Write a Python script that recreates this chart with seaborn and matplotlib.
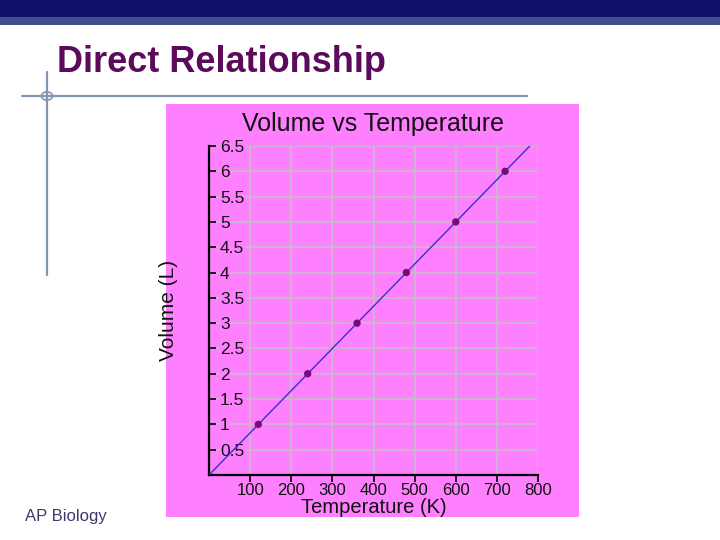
import matplotlib
matplotlib.use("Agg")
import matplotlib.pyplot as plt
from matplotlib.lines import Line2D
from matplotlib.patches import Rectangle, Circle
import pandas as pd
import seaborn as sns

# data
temperature_k = [120, 240, 360, 480, 600, 720]
volume_l = [1, 2, 3, 4, 5, 6]
fit_temperature = [0, 780]
fit_volume = [0, 6.5]
x_ticks = [100, 200, 300, 400, 500, 600, 700, 800]
y_ticks = [0.5, 1, 1.5, 2, 2.5, 3, 3.5, 4, 4.5, 5, 5.5, 6, 6.5]

sns.set_style("white")
plt.rcParams['font.family'] = ['Liberation Sans', 'DejaVu Sans']

W, H = 720, 540
PINK = "#FF80FF"


def fx(x):
    return x / W


def fy(y):
    return 1 - y / H


fig = plt.figure(figsize=(7.2, 5.4), dpi=100)
fig.patch.set_facecolor("white")

# slide decoration
fig.add_artist(Rectangle((0, fy(25)), 1, 25 / H, transform=fig.transFigure,
                         facecolor="#434C8E", edgecolor="none"))
fig.add_artist(Rectangle((0, fy(17)), 1, 17 / H, transform=fig.transFigure,
                         facecolor="#10106A", edgecolor="none"))
fig.add_artist(Line2D([fx(22), fx(527)], [fy(96), fy(96)], transform=fig.transFigure,
                      color="#8494B4", lw=1.6))
fig.add_artist(Line2D([fx(47), fx(47)], [fy(72), fy(275)], transform=fig.transFigure,
                      color="#8494B4", lw=1.6))
fig.add_artist(Circle((fx(47), fy(96)), 5.5 / W, transform=fig.transFigure,
                      facecolor="none", edgecolor="#8494B4", lw=1.2))
fig.text(fx(57), fy(62), "Direct Relationship", fontsize=26, fontweight="bold",
         color="#5C0A5C", ha="left", va="center")
fig.text(fx(25), fy(516), "AP Biology", fontsize=12, color="#3A3A6C",
         ha="left", va="center")

# pink chart panel, drawn behind the axes
fig.add_artist(Rectangle((fx(166), fy(517)), (579 - 166) / W, (517 - 104) / H,
                         transform=fig.transFigure, facecolor=PINK, edgecolor="none",
                         zorder=-1))

ax = fig.add_axes([fx(209), fy(475), (538 - 209) / W, (475 - 146) / H])
ax.set_facecolor(PINK)

fit = pd.DataFrame({"Temperature": fit_temperature, "Volume": fit_volume})
pts = pd.DataFrame({"Temperature": temperature_k, "Volume": volume_l})
sns.lineplot(data=fit, x="Temperature", y="Volume", ax=ax, color="#3434C4", lw=1, zorder=3)
sns.scatterplot(data=pts, x="Temperature", y="Volume", ax=ax, color="#7A0A7A",
                s=28, edgecolor="none", zorder=4)

ax.set_xlim(0, 800)
ax.set_ylim(0, 6.5)
ax.set_xticks(x_ticks)
ax.set_yticks(y_ticks)
ax.set_xticklabels([str(t) for t in x_ticks])
ax.set_yticklabels([f"{t:g}" for t in y_ticks])
ax.grid(True, color="#C8BCC8", lw=1.2, zorder=0)
ax.set_axisbelow(True)

for side in ["top", "right"]:
    ax.spines[side].set_visible(False)
for side in ["left", "bottom"]:
    ax.spines[side].set_color("black")
    ax.spines[side].set_linewidth(1.6)

# seaborn's white style hides tick marks, turn them back on
ax.tick_params(axis="x", bottom=True, direction="out", length=5, width=1.2, color="black",
               labelsize=12, pad=1, labelcolor="#111111")
ax.tick_params(axis="y", left=True, direction="in", length=5, width=1.2, color="black",
               labelsize=12.5, pad=-8, labelcolor="#111111")
for lab in ax.get_yticklabels():
    lab.set_horizontalalignment("left")
    lab.set_bbox(dict(facecolor=PINK, edgecolor="none", pad=0.2))

ax.set_xlabel("Temperature (K)", fontsize=14.5, color="#111111", labelpad=0)
ax.set_ylabel("Volume (L)", fontsize=15, color="#111111")
ax.yaxis.set_label_coords(-0.094, 0.5)
ax.set_title("Volume vs Temperature", fontsize=18, color="#111111", pad=11)

fig.savefig("out.png", dpi=100)
